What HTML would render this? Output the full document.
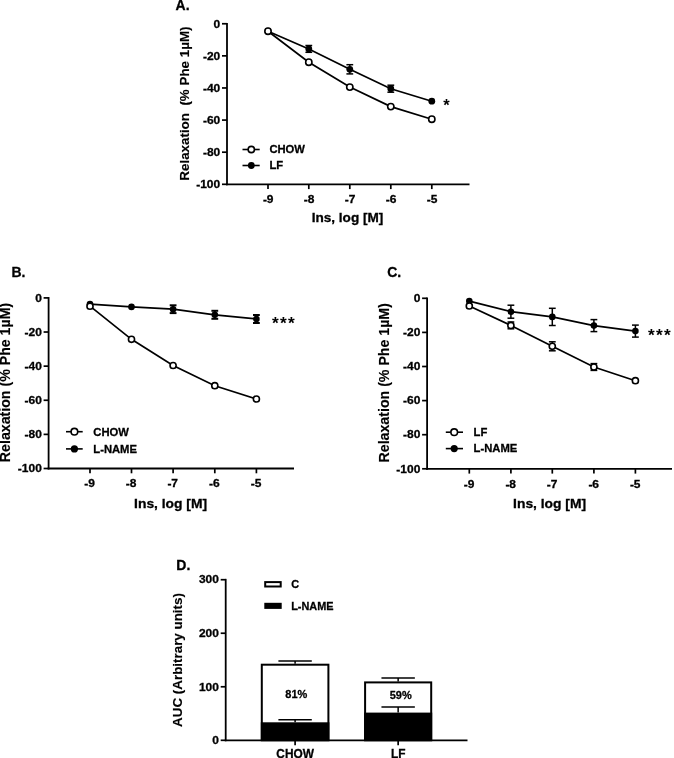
<!DOCTYPE html>
<html lang="en"><head><meta charset="utf-8"><title>Figure</title>
<style>
html,body{margin:0;padding:0;background:#fff;}
body{width:674px;height:758px;overflow:hidden;}
svg{display:block;}
text{font-family:"Liberation Sans",Arial,sans-serif;}
</style></head><body>
<svg width="674" height="758" viewBox="0 0 674 758" font-family='"Liberation Sans", Arial, sans-serif' fill="#000">
<rect width="674" height="758" fill="#fff"/>
<line x1="227.00" y1="22.90" x2="227.00" y2="185.20" stroke="#000" stroke-width="1.8" stroke-linecap="butt"/>
<line x1="226.10" y1="184.30" x2="469.50" y2="184.30" stroke="#000" stroke-width="1.8" stroke-linecap="butt"/>
<line x1="222.00" y1="23.75" x2="227.00" y2="23.75" stroke="#000" stroke-width="1.7" stroke-linecap="butt"/>
<text transform="translate(220.20 27.50) scale(1.065 1)" font-size="11.24" font-weight="bold" text-anchor="end" stroke="#000" stroke-width="0.3">0</text>
<line x1="222.00" y1="55.86" x2="227.00" y2="55.86" stroke="#000" stroke-width="1.7" stroke-linecap="butt"/>
<text transform="translate(220.20 59.61) scale(1.065 1)" font-size="11.24" font-weight="bold" text-anchor="end" stroke="#000" stroke-width="0.3">-20</text>
<line x1="222.00" y1="87.97" x2="227.00" y2="87.97" stroke="#000" stroke-width="1.7" stroke-linecap="butt"/>
<text transform="translate(220.20 91.72) scale(1.065 1)" font-size="11.24" font-weight="bold" text-anchor="end" stroke="#000" stroke-width="0.3">-40</text>
<line x1="222.00" y1="120.08" x2="227.00" y2="120.08" stroke="#000" stroke-width="1.7" stroke-linecap="butt"/>
<text transform="translate(220.20 123.83) scale(1.065 1)" font-size="11.24" font-weight="bold" text-anchor="end" stroke="#000" stroke-width="0.3">-60</text>
<line x1="222.00" y1="152.19" x2="227.00" y2="152.19" stroke="#000" stroke-width="1.7" stroke-linecap="butt"/>
<text transform="translate(220.20 155.94) scale(1.065 1)" font-size="11.24" font-weight="bold" text-anchor="end" stroke="#000" stroke-width="0.3">-80</text>
<line x1="222.00" y1="184.30" x2="227.00" y2="184.30" stroke="#000" stroke-width="1.7" stroke-linecap="butt"/>
<text transform="translate(220.20 188.05) scale(1.065 1)" font-size="11.24" font-weight="bold" text-anchor="end" stroke="#000" stroke-width="0.3">-100</text>
<line x1="268.00" y1="184.30" x2="268.00" y2="189.10" stroke="#000" stroke-width="1.7" stroke-linecap="butt"/>
<text transform="translate(268.20 202.60) scale(1.065 1)" font-size="11.24" font-weight="bold" text-anchor="middle" stroke="#000" stroke-width="0.3">-9</text>
<line x1="308.80" y1="184.30" x2="308.80" y2="189.10" stroke="#000" stroke-width="1.7" stroke-linecap="butt"/>
<text transform="translate(309.00 202.60) scale(1.065 1)" font-size="11.24" font-weight="bold" text-anchor="middle" stroke="#000" stroke-width="0.3">-8</text>
<line x1="349.80" y1="184.30" x2="349.80" y2="189.10" stroke="#000" stroke-width="1.7" stroke-linecap="butt"/>
<text transform="translate(350.00 202.60) scale(1.065 1)" font-size="11.24" font-weight="bold" text-anchor="middle" stroke="#000" stroke-width="0.3">-7</text>
<line x1="390.80" y1="184.30" x2="390.80" y2="189.10" stroke="#000" stroke-width="1.7" stroke-linecap="butt"/>
<text transform="translate(391.00 202.60) scale(1.065 1)" font-size="11.24" font-weight="bold" text-anchor="middle" stroke="#000" stroke-width="0.3">-6</text>
<line x1="431.80" y1="184.30" x2="431.80" y2="189.10" stroke="#000" stroke-width="1.7" stroke-linecap="butt"/>
<text transform="translate(432.00 202.60) scale(1.065 1)" font-size="11.24" font-weight="bold" text-anchor="middle" stroke="#000" stroke-width="0.3">-5</text>
<text transform="translate(189.00 103.60) rotate(-90) scale(1.02 1)" font-size="13.12" font-weight="bold" text-anchor="middle" stroke="#000" stroke-width="0.15">Relaxation&#160; (% Phe 1µM)</text>
<text transform="translate(347.50 221.50) scale(1.02 1)" font-size="13.32" font-weight="bold" text-anchor="middle" stroke="#000" stroke-width="0.3">Ins, log [M]</text>
<text transform="translate(175.60 10.00) scale(0.96 1)" font-size="14.57" font-weight="bold" text-anchor="start" stroke="#000" stroke-width="0.3">A.</text>
<polyline points="268.00,31.20 308.80,48.90 349.80,69.30 390.80,88.70 431.80,101.20" fill="none" stroke="#000" stroke-width="1.7"/>
<polyline points="268.00,31.20 308.80,62.20 349.80,87.10 390.80,106.60 431.80,119.20" fill="none" stroke="#000" stroke-width="1.7"/>
<line x1="308.80" y1="45.50" x2="308.80" y2="52.30" stroke="#000" stroke-width="1.5" stroke-linecap="butt"/>
<line x1="305.40" y1="45.50" x2="312.20" y2="45.50" stroke="#000" stroke-width="1.5" stroke-linecap="butt"/>
<line x1="305.40" y1="52.30" x2="312.20" y2="52.30" stroke="#000" stroke-width="1.5" stroke-linecap="butt"/>
<line x1="349.80" y1="64.70" x2="349.80" y2="73.90" stroke="#000" stroke-width="1.5" stroke-linecap="butt"/>
<line x1="346.40" y1="64.70" x2="353.20" y2="64.70" stroke="#000" stroke-width="1.5" stroke-linecap="butt"/>
<line x1="346.40" y1="73.90" x2="353.20" y2="73.90" stroke="#000" stroke-width="1.5" stroke-linecap="butt"/>
<line x1="390.80" y1="85.20" x2="390.80" y2="92.20" stroke="#000" stroke-width="1.5" stroke-linecap="butt"/>
<line x1="387.40" y1="85.20" x2="394.20" y2="85.20" stroke="#000" stroke-width="1.5" stroke-linecap="butt"/>
<line x1="387.40" y1="92.20" x2="394.20" y2="92.20" stroke="#000" stroke-width="1.5" stroke-linecap="butt"/>
<circle cx="268.00" cy="31.20" r="3.4" fill="#000"/>
<circle cx="308.80" cy="48.90" r="3.4" fill="#000"/>
<circle cx="349.80" cy="69.30" r="3.4" fill="#000"/>
<circle cx="390.80" cy="88.70" r="3.4" fill="#000"/>
<circle cx="431.80" cy="101.20" r="3.4" fill="#000"/>
<circle cx="268.00" cy="31.20" r="3.15" fill="#fff" stroke="#000" stroke-width="1.6"/>
<circle cx="308.80" cy="62.20" r="3.15" fill="#fff" stroke="#000" stroke-width="1.6"/>
<circle cx="349.80" cy="87.10" r="3.15" fill="#fff" stroke="#000" stroke-width="1.6"/>
<circle cx="390.80" cy="106.60" r="3.15" fill="#fff" stroke="#000" stroke-width="1.6"/>
<circle cx="431.80" cy="119.20" r="3.15" fill="#fff" stroke="#000" stroke-width="1.6"/>
<line x1="242.50" y1="149.50" x2="259.70" y2="149.50" stroke="#000" stroke-width="1.6" stroke-linecap="butt"/>
<circle cx="251.30" cy="149.50" r="3.15" fill="#fff" stroke="#000" stroke-width="1.6"/>
<text transform="translate(269.40 153.35) scale(0.965 1)" font-size="11.66" font-weight="bold" text-anchor="start" stroke="#000" stroke-width="0.3">CHOW</text>
<line x1="242.50" y1="165.50" x2="259.70" y2="165.50" stroke="#000" stroke-width="1.6" stroke-linecap="butt"/>
<circle cx="251.30" cy="165.50" r="3.4" fill="#000"/>
<text transform="translate(269.40 169.35) scale(0.965 1)" font-size="11.66" font-weight="bold" text-anchor="start" stroke="#000" stroke-width="0.3">LF</text>
<text x="443.3" y="110.5" font-size="16.5" font-weight="bold" letter-spacing="1.28">*</text>
<line x1="48.60" y1="297.05" x2="48.60" y2="469.40" stroke="#000" stroke-width="1.8" stroke-linecap="butt"/>
<line x1="47.70" y1="468.50" x2="294.00" y2="468.50" stroke="#000" stroke-width="1.8" stroke-linecap="butt"/>
<line x1="43.60" y1="297.90" x2="48.60" y2="297.90" stroke="#000" stroke-width="1.7" stroke-linecap="butt"/>
<text transform="translate(41.80 301.65) scale(1.065 1)" font-size="11.24" font-weight="bold" text-anchor="end" stroke="#000" stroke-width="0.3">0</text>
<line x1="43.60" y1="332.02" x2="48.60" y2="332.02" stroke="#000" stroke-width="1.7" stroke-linecap="butt"/>
<text transform="translate(41.80 335.77) scale(1.065 1)" font-size="11.24" font-weight="bold" text-anchor="end" stroke="#000" stroke-width="0.3">-20</text>
<line x1="43.60" y1="366.14" x2="48.60" y2="366.14" stroke="#000" stroke-width="1.7" stroke-linecap="butt"/>
<text transform="translate(41.80 369.89) scale(1.065 1)" font-size="11.24" font-weight="bold" text-anchor="end" stroke="#000" stroke-width="0.3">-40</text>
<line x1="43.60" y1="400.26" x2="48.60" y2="400.26" stroke="#000" stroke-width="1.7" stroke-linecap="butt"/>
<text transform="translate(41.80 404.01) scale(1.065 1)" font-size="11.24" font-weight="bold" text-anchor="end" stroke="#000" stroke-width="0.3">-60</text>
<line x1="43.60" y1="434.38" x2="48.60" y2="434.38" stroke="#000" stroke-width="1.7" stroke-linecap="butt"/>
<text transform="translate(41.80 438.13) scale(1.065 1)" font-size="11.24" font-weight="bold" text-anchor="end" stroke="#000" stroke-width="0.3">-80</text>
<line x1="43.60" y1="468.50" x2="48.60" y2="468.50" stroke="#000" stroke-width="1.7" stroke-linecap="butt"/>
<text transform="translate(41.80 472.25) scale(1.065 1)" font-size="11.24" font-weight="bold" text-anchor="end" stroke="#000" stroke-width="0.3">-100</text>
<line x1="90.00" y1="468.50" x2="90.00" y2="473.30" stroke="#000" stroke-width="1.7" stroke-linecap="butt"/>
<text transform="translate(89.60 487.20) scale(1.065 1)" font-size="11.24" font-weight="bold" text-anchor="middle" stroke="#000" stroke-width="0.3">-9</text>
<line x1="131.50" y1="468.50" x2="131.50" y2="473.30" stroke="#000" stroke-width="1.7" stroke-linecap="butt"/>
<text transform="translate(131.10 487.20) scale(1.065 1)" font-size="11.24" font-weight="bold" text-anchor="middle" stroke="#000" stroke-width="0.3">-8</text>
<line x1="173.10" y1="468.50" x2="173.10" y2="473.30" stroke="#000" stroke-width="1.7" stroke-linecap="butt"/>
<text transform="translate(172.70 487.20) scale(1.065 1)" font-size="11.24" font-weight="bold" text-anchor="middle" stroke="#000" stroke-width="0.3">-7</text>
<line x1="214.80" y1="468.50" x2="214.80" y2="473.30" stroke="#000" stroke-width="1.7" stroke-linecap="butt"/>
<text transform="translate(214.40 487.20) scale(1.065 1)" font-size="11.24" font-weight="bold" text-anchor="middle" stroke="#000" stroke-width="0.3">-6</text>
<line x1="256.40" y1="468.50" x2="256.40" y2="473.30" stroke="#000" stroke-width="1.7" stroke-linecap="butt"/>
<text transform="translate(256.00 487.20) scale(1.065 1)" font-size="11.24" font-weight="bold" text-anchor="middle" stroke="#000" stroke-width="0.3">-5</text>
<text transform="translate(9.80 382.50) rotate(-90) scale(0.96 1)" font-size="14.78" font-weight="bold" text-anchor="middle" stroke="#000" stroke-width="0.15">Relaxation (% Phe 1µM)</text>
<text transform="translate(170.60 508.10) scale(1.04 1)" font-size="13.32" font-weight="bold" text-anchor="middle" stroke="#000" stroke-width="0.3">Ins, log [M]</text>
<text transform="translate(11.50 276.70) scale(0.96 1)" font-size="14.57" font-weight="bold" text-anchor="start" stroke="#000" stroke-width="0.3">B.</text>
<polyline points="90.00,304.10 131.50,306.90 173.10,309.20 214.80,314.80 256.40,319.00" fill="none" stroke="#000" stroke-width="1.7"/>
<polyline points="90.00,306.20 131.50,339.30 173.10,365.50 214.80,385.70 256.40,399.00" fill="none" stroke="#000" stroke-width="1.7"/>
<line x1="173.10" y1="305.30" x2="173.10" y2="313.10" stroke="#000" stroke-width="2.0" stroke-linecap="butt"/>
<line x1="169.70" y1="305.30" x2="176.50" y2="305.30" stroke="#000" stroke-width="2.0" stroke-linecap="butt"/>
<line x1="169.70" y1="313.10" x2="176.50" y2="313.10" stroke="#000" stroke-width="2.0" stroke-linecap="butt"/>
<line x1="214.80" y1="310.80" x2="214.80" y2="318.80" stroke="#000" stroke-width="2.0" stroke-linecap="butt"/>
<line x1="211.40" y1="310.80" x2="218.20" y2="310.80" stroke="#000" stroke-width="2.0" stroke-linecap="butt"/>
<line x1="211.40" y1="318.80" x2="218.20" y2="318.80" stroke="#000" stroke-width="2.0" stroke-linecap="butt"/>
<line x1="256.40" y1="315.00" x2="256.40" y2="323.00" stroke="#000" stroke-width="2.0" stroke-linecap="butt"/>
<line x1="253.00" y1="315.00" x2="259.80" y2="315.00" stroke="#000" stroke-width="2.0" stroke-linecap="butt"/>
<line x1="253.00" y1="323.00" x2="259.80" y2="323.00" stroke="#000" stroke-width="2.0" stroke-linecap="butt"/>
<circle cx="90.00" cy="304.10" r="3.3" fill="#000"/>
<circle cx="131.50" cy="306.90" r="3.3" fill="#000"/>
<circle cx="173.10" cy="309.20" r="3.3" fill="#000"/>
<circle cx="214.80" cy="314.80" r="3.3" fill="#000"/>
<circle cx="256.40" cy="319.00" r="3.3" fill="#000"/>
<circle cx="90.00" cy="306.20" r="3.05" fill="#fff" stroke="#000" stroke-width="1.6"/>
<circle cx="131.50" cy="339.30" r="3.05" fill="#fff" stroke="#000" stroke-width="1.6"/>
<circle cx="173.10" cy="365.50" r="3.05" fill="#fff" stroke="#000" stroke-width="1.6"/>
<circle cx="214.80" cy="385.70" r="3.05" fill="#fff" stroke="#000" stroke-width="1.6"/>
<circle cx="256.40" cy="399.00" r="3.05" fill="#fff" stroke="#000" stroke-width="1.6"/>
<line x1="66.00" y1="431.70" x2="82.70" y2="431.70" stroke="#000" stroke-width="1.6" stroke-linecap="butt"/>
<circle cx="74.40" cy="431.70" r="3.3" fill="#fff" stroke="#000" stroke-width="1.6"/>
<text transform="translate(93.30 435.55) scale(0.965 1)" font-size="11.66" font-weight="bold" text-anchor="start" stroke="#000" stroke-width="0.3">CHOW</text>
<line x1="66.00" y1="448.90" x2="82.70" y2="448.90" stroke="#000" stroke-width="1.6" stroke-linecap="butt"/>
<circle cx="74.40" cy="448.90" r="3.6" fill="#000"/>
<text transform="translate(93.30 452.75) scale(0.965 1)" font-size="11.66" font-weight="bold" text-anchor="start" stroke="#000" stroke-width="0.3">L-NAME</text>
<text x="272.1" y="328.8" font-size="17.3" font-weight="bold" letter-spacing="1.28">***</text>
<line x1="427.10" y1="297.45" x2="427.10" y2="469.70" stroke="#000" stroke-width="1.8" stroke-linecap="butt"/>
<line x1="426.20" y1="468.80" x2="672.00" y2="468.80" stroke="#000" stroke-width="1.8" stroke-linecap="butt"/>
<line x1="422.10" y1="298.30" x2="427.10" y2="298.30" stroke="#000" stroke-width="1.7" stroke-linecap="butt"/>
<text transform="translate(420.30 302.05) scale(1.065 1)" font-size="11.24" font-weight="bold" text-anchor="end" stroke="#000" stroke-width="0.3">0</text>
<line x1="422.10" y1="332.40" x2="427.10" y2="332.40" stroke="#000" stroke-width="1.7" stroke-linecap="butt"/>
<text transform="translate(420.30 336.15) scale(1.065 1)" font-size="11.24" font-weight="bold" text-anchor="end" stroke="#000" stroke-width="0.3">-20</text>
<line x1="422.10" y1="366.50" x2="427.10" y2="366.50" stroke="#000" stroke-width="1.7" stroke-linecap="butt"/>
<text transform="translate(420.30 370.25) scale(1.065 1)" font-size="11.24" font-weight="bold" text-anchor="end" stroke="#000" stroke-width="0.3">-40</text>
<line x1="422.10" y1="400.60" x2="427.10" y2="400.60" stroke="#000" stroke-width="1.7" stroke-linecap="butt"/>
<text transform="translate(420.30 404.35) scale(1.065 1)" font-size="11.24" font-weight="bold" text-anchor="end" stroke="#000" stroke-width="0.3">-60</text>
<line x1="422.10" y1="434.70" x2="427.10" y2="434.70" stroke="#000" stroke-width="1.7" stroke-linecap="butt"/>
<text transform="translate(420.30 438.45) scale(1.065 1)" font-size="11.24" font-weight="bold" text-anchor="end" stroke="#000" stroke-width="0.3">-80</text>
<line x1="422.10" y1="468.80" x2="427.10" y2="468.80" stroke="#000" stroke-width="1.7" stroke-linecap="butt"/>
<text transform="translate(420.30 472.55) scale(1.065 1)" font-size="11.24" font-weight="bold" text-anchor="end" stroke="#000" stroke-width="0.3">-100</text>
<line x1="469.30" y1="468.80" x2="469.30" y2="473.60" stroke="#000" stroke-width="1.7" stroke-linecap="butt"/>
<text transform="translate(469.10 487.50) scale(1.065 1)" font-size="11.24" font-weight="bold" text-anchor="middle" stroke="#000" stroke-width="0.3">-9</text>
<line x1="510.90" y1="468.80" x2="510.90" y2="473.60" stroke="#000" stroke-width="1.7" stroke-linecap="butt"/>
<text transform="translate(510.70 487.50) scale(1.065 1)" font-size="11.24" font-weight="bold" text-anchor="middle" stroke="#000" stroke-width="0.3">-8</text>
<line x1="552.30" y1="468.80" x2="552.30" y2="473.60" stroke="#000" stroke-width="1.7" stroke-linecap="butt"/>
<text transform="translate(552.10 487.50) scale(1.065 1)" font-size="11.24" font-weight="bold" text-anchor="middle" stroke="#000" stroke-width="0.3">-7</text>
<line x1="593.90" y1="468.80" x2="593.90" y2="473.60" stroke="#000" stroke-width="1.7" stroke-linecap="butt"/>
<text transform="translate(593.70 487.50) scale(1.065 1)" font-size="11.24" font-weight="bold" text-anchor="middle" stroke="#000" stroke-width="0.3">-6</text>
<line x1="635.40" y1="468.80" x2="635.40" y2="473.60" stroke="#000" stroke-width="1.7" stroke-linecap="butt"/>
<text transform="translate(635.20 487.50) scale(1.065 1)" font-size="11.24" font-weight="bold" text-anchor="middle" stroke="#000" stroke-width="0.3">-5</text>
<text transform="translate(389.00 382.80) rotate(-90) scale(0.96 1)" font-size="14.78" font-weight="bold" text-anchor="middle" stroke="#000" stroke-width="0.15">Relaxation (% Phe 1µM)</text>
<text transform="translate(549.60 508.40) scale(1.04 1)" font-size="13.32" font-weight="bold" text-anchor="middle" stroke="#000" stroke-width="0.3">Ins, log [M]</text>
<text transform="translate(387.20 277.00) scale(0.96 1)" font-size="14.57" font-weight="bold" text-anchor="start" stroke="#000" stroke-width="0.3">C.</text>
<polyline points="469.30,301.10 510.90,311.70 552.30,316.90 593.90,325.60 635.40,331.10" fill="none" stroke="#000" stroke-width="1.7"/>
<polyline points="469.30,305.90 510.90,325.40 552.30,346.30 593.90,367.00 635.40,380.70" fill="none" stroke="#000" stroke-width="1.7"/>
<line x1="510.90" y1="305.20" x2="510.90" y2="318.20" stroke="#000" stroke-width="1.5" stroke-linecap="butt"/>
<line x1="507.50" y1="305.20" x2="514.30" y2="305.20" stroke="#000" stroke-width="1.5" stroke-linecap="butt"/>
<line x1="507.50" y1="318.20" x2="514.30" y2="318.20" stroke="#000" stroke-width="1.5" stroke-linecap="butt"/>
<line x1="552.30" y1="308.30" x2="552.30" y2="325.50" stroke="#000" stroke-width="1.5" stroke-linecap="butt"/>
<line x1="548.90" y1="308.30" x2="555.70" y2="308.30" stroke="#000" stroke-width="1.5" stroke-linecap="butt"/>
<line x1="548.90" y1="325.50" x2="555.70" y2="325.50" stroke="#000" stroke-width="1.5" stroke-linecap="butt"/>
<line x1="593.90" y1="319.60" x2="593.90" y2="331.60" stroke="#000" stroke-width="1.5" stroke-linecap="butt"/>
<line x1="590.50" y1="319.60" x2="597.30" y2="319.60" stroke="#000" stroke-width="1.5" stroke-linecap="butt"/>
<line x1="590.50" y1="331.60" x2="597.30" y2="331.60" stroke="#000" stroke-width="1.5" stroke-linecap="butt"/>
<line x1="635.40" y1="325.10" x2="635.40" y2="337.10" stroke="#000" stroke-width="1.5" stroke-linecap="butt"/>
<line x1="632.00" y1="325.10" x2="638.80" y2="325.10" stroke="#000" stroke-width="1.5" stroke-linecap="butt"/>
<line x1="632.00" y1="337.10" x2="638.80" y2="337.10" stroke="#000" stroke-width="1.5" stroke-linecap="butt"/>
<circle cx="469.30" cy="301.10" r="3.3" fill="#000"/>
<circle cx="510.90" cy="311.70" r="3.3" fill="#000"/>
<circle cx="552.30" cy="316.90" r="3.3" fill="#000"/>
<circle cx="593.90" cy="325.60" r="3.3" fill="#000"/>
<circle cx="635.40" cy="331.10" r="3.3" fill="#000"/>
<line x1="510.90" y1="322.00" x2="510.90" y2="328.80" stroke="#000" stroke-width="1.5" stroke-linecap="butt"/>
<line x1="507.50" y1="322.00" x2="514.30" y2="322.00" stroke="#000" stroke-width="1.5" stroke-linecap="butt"/>
<line x1="507.50" y1="328.80" x2="514.30" y2="328.80" stroke="#000" stroke-width="1.5" stroke-linecap="butt"/>
<line x1="552.30" y1="341.80" x2="552.30" y2="350.80" stroke="#000" stroke-width="1.5" stroke-linecap="butt"/>
<line x1="548.90" y1="341.80" x2="555.70" y2="341.80" stroke="#000" stroke-width="1.5" stroke-linecap="butt"/>
<line x1="548.90" y1="350.80" x2="555.70" y2="350.80" stroke="#000" stroke-width="1.5" stroke-linecap="butt"/>
<line x1="593.90" y1="363.60" x2="593.90" y2="370.40" stroke="#000" stroke-width="1.5" stroke-linecap="butt"/>
<line x1="590.50" y1="363.60" x2="597.30" y2="363.60" stroke="#000" stroke-width="1.5" stroke-linecap="butt"/>
<line x1="590.50" y1="370.40" x2="597.30" y2="370.40" stroke="#000" stroke-width="1.5" stroke-linecap="butt"/>
<circle cx="469.30" cy="305.90" r="3.05" fill="#fff" stroke="#000" stroke-width="1.6"/>
<circle cx="510.90" cy="325.40" r="3.05" fill="#fff" stroke="#000" stroke-width="1.6"/>
<circle cx="552.30" cy="346.30" r="3.05" fill="#fff" stroke="#000" stroke-width="1.6"/>
<circle cx="593.90" cy="367.00" r="3.05" fill="#fff" stroke="#000" stroke-width="1.6"/>
<circle cx="635.40" cy="380.70" r="3.05" fill="#fff" stroke="#000" stroke-width="1.6"/>
<line x1="445.80" y1="432.20" x2="463.00" y2="432.20" stroke="#000" stroke-width="1.6" stroke-linecap="butt"/>
<circle cx="454.20" cy="432.20" r="3.3" fill="#fff" stroke="#000" stroke-width="1.6"/>
<text transform="translate(473.60 436.05) scale(0.965 1)" font-size="11.66" font-weight="bold" text-anchor="start" stroke="#000" stroke-width="0.3">LF</text>
<line x1="445.80" y1="448.60" x2="463.00" y2="448.60" stroke="#000" stroke-width="1.6" stroke-linecap="butt"/>
<circle cx="454.20" cy="448.60" r="3.6" fill="#000"/>
<text transform="translate(473.60 452.45) scale(0.965 1)" font-size="11.66" font-weight="bold" text-anchor="start" stroke="#000" stroke-width="0.3">L-NAME</text>
<text x="648.0" y="340.6" font-size="17.3" font-weight="bold" letter-spacing="1.28">***</text>
<line x1="225.70" y1="578.86" x2="225.70" y2="741.20" stroke="#000" stroke-width="1.8" stroke-linecap="butt"/>
<line x1="224.80" y1="740.30" x2="467.50" y2="740.30" stroke="#000" stroke-width="1.8" stroke-linecap="butt"/>
<line x1="220.70" y1="740.30" x2="225.70" y2="740.30" stroke="#000" stroke-width="1.7" stroke-linecap="butt"/>
<text transform="translate(218.90 744.05) scale(1.065 1)" font-size="11.24" font-weight="bold" text-anchor="end" stroke="#000" stroke-width="0.3">0</text>
<line x1="220.70" y1="686.77" x2="225.70" y2="686.77" stroke="#000" stroke-width="1.7" stroke-linecap="butt"/>
<text transform="translate(218.90 690.52) scale(1.065 1)" font-size="11.24" font-weight="bold" text-anchor="end" stroke="#000" stroke-width="0.3">100</text>
<line x1="220.70" y1="633.24" x2="225.70" y2="633.24" stroke="#000" stroke-width="1.7" stroke-linecap="butt"/>
<text transform="translate(218.90 636.99) scale(1.065 1)" font-size="11.24" font-weight="bold" text-anchor="end" stroke="#000" stroke-width="0.3">200</text>
<line x1="220.70" y1="579.71" x2="225.70" y2="579.71" stroke="#000" stroke-width="1.7" stroke-linecap="butt"/>
<text transform="translate(218.90 583.46) scale(1.065 1)" font-size="11.24" font-weight="bold" text-anchor="end" stroke="#000" stroke-width="0.3">300</text>
<text transform="translate(181.80 660.00) rotate(-90) scale(1.02 1)" font-size="13.12" font-weight="bold" text-anchor="middle" stroke="#000" stroke-width="0.15">AUC (Arbitrary units)</text>
<text transform="translate(176.30 569.60) scale(0.96 1)" font-size="14.57" font-weight="bold" text-anchor="start" stroke="#000" stroke-width="0.3">D.</text>
<line x1="295.10" y1="661.00" x2="295.10" y2="663.70" stroke="#000" stroke-width="1.5" stroke-linecap="butt"/>
<line x1="278.40" y1="661.00" x2="311.80" y2="661.00" stroke="#000" stroke-width="1.5" stroke-linecap="butt"/>
<rect x="261.80" y="664.70" width="66.60" height="75.60" fill="#fff" stroke="#000" stroke-width="2"/>
<rect x="260.80" y="722.30" width="68.60" height="18.00" fill="#000"/>
<line x1="295.10" y1="719.70" x2="295.10" y2="722.30" stroke="#000" stroke-width="1.5" stroke-linecap="butt"/>
<line x1="278.40" y1="719.70" x2="311.80" y2="719.70" stroke="#000" stroke-width="1.5" stroke-linecap="butt"/>
<line x1="295.10" y1="740.30" x2="295.10" y2="745.30" stroke="#000" stroke-width="1.7" stroke-linecap="butt"/>
<text transform="translate(296.30 697.60) scale(0.96 1)" font-size="11.45" font-weight="bold" text-anchor="middle" stroke="#000" stroke-width="0.3">81%</text>
<text transform="translate(295.10 757.50) scale(0.96 1)" font-size="12.39" font-weight="bold" text-anchor="middle" stroke="#000" stroke-width="0.3">CHOW</text>
<line x1="398.15" y1="678.00" x2="398.15" y2="681.40" stroke="#000" stroke-width="1.5" stroke-linecap="butt"/>
<line x1="381.45" y1="678.00" x2="414.85" y2="678.00" stroke="#000" stroke-width="1.5" stroke-linecap="butt"/>
<rect x="365.10" y="682.40" width="66.10" height="57.90" fill="#fff" stroke="#000" stroke-width="2"/>
<rect x="364.10" y="712.60" width="68.10" height="27.70" fill="#000"/>
<line x1="398.15" y1="707.00" x2="398.15" y2="712.60" stroke="#000" stroke-width="1.5" stroke-linecap="butt"/>
<line x1="381.45" y1="707.00" x2="414.85" y2="707.00" stroke="#000" stroke-width="1.5" stroke-linecap="butt"/>
<line x1="398.15" y1="740.30" x2="398.15" y2="745.30" stroke="#000" stroke-width="1.7" stroke-linecap="butt"/>
<text transform="translate(400.75 699.30) scale(0.96 1)" font-size="11.45" font-weight="bold" text-anchor="middle" stroke="#000" stroke-width="0.3">59%</text>
<text transform="translate(398.15 757.50) scale(0.96 1)" font-size="12.39" font-weight="bold" text-anchor="middle" stroke="#000" stroke-width="0.3">LF</text>
<rect x="265.2" y="582.1" width="15.5" height="4.4" fill="#fff" stroke="#000" stroke-width="2"/>
<rect x="264.3" y="602.8" width="17.4" height="6.1" fill="#000"/>
<text transform="translate(291.20 587.70) scale(0.96 1)" font-size="11.35" font-weight="bold" text-anchor="start" stroke="#000" stroke-width="0.3">C</text>
<text transform="translate(291.20 609.90) scale(0.96 1)" font-size="11.35" font-weight="bold" text-anchor="start" stroke="#000" stroke-width="0.3">L-NAME</text>
</svg>
</body></html>
